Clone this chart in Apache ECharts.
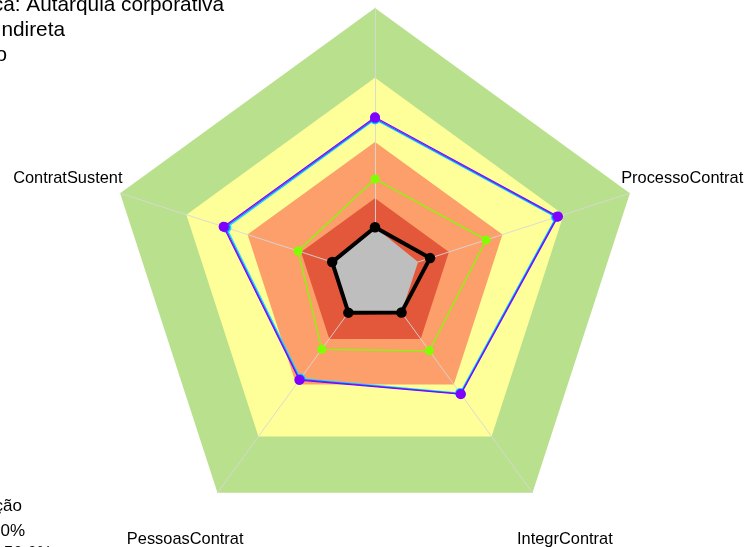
<!DOCTYPE html>
<html>
<head>
<meta charset="utf-8">
<script src="https://cdn.jsdelivr.net/npm/echarts@6/dist/echarts.min.js"></script>
<style>
  html, body { margin: 0; padding: 0; background: #ffffff; }
  #chart { width: 746px; height: 547px; }
</style>
</head>
<body>
<div id="chart"></div>
<script>
// Indicators, counter-clockwise from the top spoke
const categories = ['', 'ContratSustent', 'PessoasContrat', 'IntegrContrat', 'ProcessoContrat'];

// Reference bands (percent of the full scale), outermost first
const bandLevels = [100, 74, 50, 29];
const bandColors = ['#B9E08C', '#FFFF99', '#FC9F6A', '#E3573A'];

// Series values (percent), same order as categories
const cyanValues   = [58.4, 58.3, 47.3, 54.0, 71.0];
const blueValues   = [58.8, 58.9, 47.7, 54.3, 71.4];
const purpleValues = [59.2, 59.4, 48.0, 54.5, 71.8];
const limeValues   = [36.2, 30.2, 33.8, 34.5, 43.6];
const greyValues   = [18.2, 16.8, 16.9, 16.8, 16.9];
const blackValues  = [18.2, 16.8, 16.9, 16.8, 21.6];

// Header and key text
const titleLines = ['Natureza jurídica: Autarquia corporativa', 'Administração Indireta', 'Poder Executivo'];
const keyLines = ['Classificação', '0% – 30.0%', '30.0% – 50.0%'];

const FONT = '"Liberation Sans", Arial, sans-serif';
const CX = 375, CY = 276, R = 268;

const chart = echarts.init(document.getElementById('chart'), null, { renderer: 'canvas' });

function band(level, color) {
  return {
    type: 'radar', z: 0, silent: true, symbol: 'none',
    lineStyle: { width: 0, opacity: 0 },
    areaStyle: { color: color, opacity: 1 },
    data: [{ value: categories.map(() => level) }]
  };
}

function line(values, color, width, size, z) {
  return {
    type: 'radar', z: z, symbol: 'circle', symbolSize: size,
    lineStyle: { color: color, width: width },
    itemStyle: { color: color },
    data: [{ value: values }]
  };
}

// Axis names placed further out on each spoke, centred
const nameGraphics = categories.map((name, i) => {
  const a = (90 + i * 72) * Math.PI / 180;
  const rr = 323;
  return {
    type: 'text',
    x: CX + rr * Math.cos(a),
    y: CY - rr * Math.sin(a) + 2,
    style: { text: name, font: '16.4px ' + FONT, fill: '#000', align: 'center', verticalAlign: 'middle' }
  };
});

const titleEnds = [224, 65, 7];
const titleGraphics = titleLines.map((t, i) => ({
  type: 'text', x: titleEnds[i], y: 4.8 + i * 25,
  style: { text: t, font: '20.8px ' + FONT, fill: '#000', align: 'right', verticalAlign: 'middle' }
}));

const keyEnds = [22, 25, 52];
const keyYs = [506.5, 531.5, 553.5];
const keyGraphics = keyLines.map((t, i) => ({
  type: 'text', x: keyEnds[i], y: keyYs[i],
  style: { text: t, font: '17px ' + FONT, fill: '#000', align: 'right', verticalAlign: 'middle' }
}));

chart.setOption({
  animation: false,
  backgroundColor: '#ffffff',
  radar: {
    center: [CX, CY],
    radius: R,
    startAngle: 90,
    shape: 'polygon',
    splitNumber: 1,
    z: 1,
    indicator: categories.map(n => ({ name: n, min: 0, max: 100 })),
    axisName: { show: false },
    splitLine: { show: false },
    splitArea: { show: false },
    axisTick: { show: false },
    axisLabel: { show: false },
    axisLine: { lineStyle: { color: 'rgba(215,215,215,0.9)', width: 1 } }
  },
  series: [
    ...bandLevels.map((lv, i) => band(lv, bandColors[i])),
    line(cyanValues, '#00E5FF', 1.2, 10, 2),
    line(blueValues, '#3355FF', 1.2, 10, 3),
    line(purpleValues, '#7F00FF', 1.2, 10, 4),
    line(limeValues, '#80FF00', 1.2, 9, 5),
    {
      type: 'radar', z: 6, symbol: 'none', silent: true,
      lineStyle: { width: 0, opacity: 0 },
      areaStyle: { color: '#BEBEBE', opacity: 1 },
      data: [{ value: greyValues }]
    },
    line(blackValues, '#000000', 4, 10.5, 7)
  ],
  graphic: [...nameGraphics, ...titleGraphics, ...keyGraphics]
});
</script>
</body>
</html>
